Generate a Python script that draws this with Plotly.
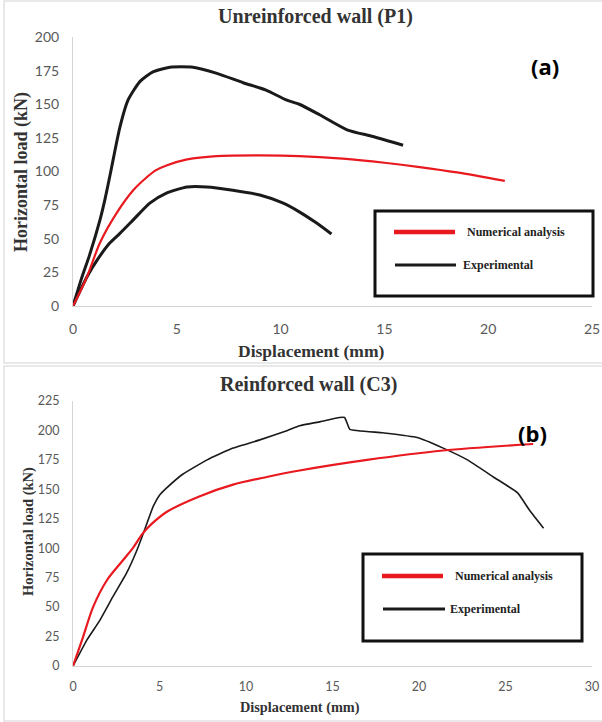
import plotly.graph_objects as go

W, H = 602, 722

# ---------------- data (a) Unreinforced wall (P1) ----------------
a_exp1_x = [0, 0.4, 0.8, 1.3, 1.55, 1.82, 2.0, 2.26, 2.65, 3.23, 3.85, 4.67, 5.78, 6.93, 8.2, 9.3, 10.3, 10.9, 11.9, 13.2, 14.45, 15.9]
a_exp1_y = [0, 20, 38, 64, 80, 100, 114, 133, 153, 167, 174, 177.5, 177.5, 173, 166, 160.5, 153, 150, 142, 131, 126, 119.5]

a_exp2_x = [0, 0.67, 1.2, 1.78, 2.26, 2.9, 3.7, 4.5, 5.5, 6.45, 7.7, 9.0, 10.1, 10.9, 11.7, 12.45]
a_exp2_y = [0, 21.6, 35, 47, 54, 64, 76.5, 84, 88.5, 88.5, 86, 82.5, 76.6, 70, 62, 53.5]

a_num_x = [0, 0.67, 1.3, 2.1, 2.9, 3.5, 4.0, 4.5, 5.5, 6.9, 9.0, 10.9, 13.0, 15.0, 16.7, 18.5, 20.8]
a_num_y = [0, 21.6, 47, 69, 86, 95, 101, 104.5, 109, 111.5, 112, 111.5, 109.5, 106.5, 103.3, 99.3, 93]

# ---------------- data (b) Reinforced wall (C3) ----------------
b_exp_x = [0, 0.8, 1.56, 2.3, 3.1, 3.7, 4.05, 4.27, 4.65, 5.0, 5.4, 6.36, 7.75, 9.25, 10.8, 12.4, 13.1, 14.3, 15.4, 15.7, 15.85, 16.0, 17.9, 19.9, 21.4, 22.8, 24.3, 25.7, 26.4, 27.2]
b_exp_y = [0, 22, 39, 58.6, 79, 98.5, 112, 121, 136, 145, 151, 163, 175, 185, 192, 200, 204, 207.5, 211, 211, 206, 201, 198, 194, 185, 175, 160.5, 147, 132, 117]

b_num_x = [0, 0.58, 1.16, 1.97, 2.9, 3.5, 4.0, 4.5, 5.43, 7.3, 9.25, 11.2, 13.1, 17.0, 21.4, 26.6]
b_num_y = [0, 24.6, 50, 73, 90, 101, 112, 120, 131, 144, 154, 160.5, 166, 175, 183, 188.5]

a_xticks = [0, 5, 10, 15, 20, 25]
a_yticks = [0, 25, 50, 75, 100, 125, 150, 175, 200]
b_xticks = [0, 5, 10, 15, 20, 25, 30]
b_yticks = [0, 25, 50, 75, 100, 125, 150, 175, 200, 225]

RED = "#e8191f"
BLACK = "#1a1a1a"
GRAY_TXT = "#595959"
AXIS_LINE = "#d4d4d4"
SERIF = "Liberation Serif"
SANS = "Lato"


def px(x):
    return x / W


def py(y):
    return 1 - y / H


fig = go.Figure()

fig.add_trace(go.Scatter(x=a_exp1_x, y=a_exp1_y, mode="lines", xaxis="x", yaxis="y",
                         line=dict(color=BLACK, width=3, shape="spline", smoothing=0.6),
                         showlegend=False, name="Experimental"))
fig.add_trace(go.Scatter(x=a_exp2_x, y=a_exp2_y, mode="lines", xaxis="x", yaxis="y",
                         line=dict(color=BLACK, width=3, shape="spline", smoothing=0.6),
                         showlegend=False, name="Experimental"))
fig.add_trace(go.Scatter(x=a_num_x, y=a_num_y, mode="lines", xaxis="x", yaxis="y",
                         line=dict(color=RED, width=2.2, shape="spline", smoothing=0.8),
                         showlegend=False, name="Numerical analysis"))

fig.add_trace(go.Scatter(x=b_exp_x, y=b_exp_y, mode="lines", xaxis="x2", yaxis="y2",
                         line=dict(color=BLACK, width=1.6, shape="spline", smoothing=0.4),
                         showlegend=False, name="Experimental"))
fig.add_trace(go.Scatter(x=b_num_x, y=b_num_y, mode="lines", xaxis="x2", yaxis="y2",
                         line=dict(color=RED, width=2.2, shape="spline", smoothing=0.8),
                         showlegend=False, name="Numerical analysis"))

common = dict(showgrid=False, zeroline=False, showline=True, linecolor=AXIS_LINE, linewidth=1,
              ticks="", fixedrange=True, automargin=False)

fig.update_layout(
    width=W, height=H,
    margin=dict(l=0, r=0, t=0, b=0, autoexpand=False),
    paper_bgcolor="white", plot_bgcolor="white",
    showlegend=False,
    xaxis=dict(domain=[px(73), px(592)], anchor="y", range=[0, 25], tickvals=a_xticks,
               tickfont=dict(family=SANS, size=14, color=GRAY_TXT), ticklabelstandoff=10, **common),
    yaxis=dict(domain=[py(306), py(37)], anchor="x", range=[0, 200], tickvals=a_yticks,
               tickfont=dict(family=SANS, size=14, color=GRAY_TXT), ticklabelstandoff=10, **common),
    xaxis2=dict(domain=[px(73), px(592)], anchor="y2", range=[0, 30], tickvals=b_xticks,
                tickfont=dict(family=SANS, size=12.5, color=GRAY_TXT), ticklabelstandoff=9, **common),
    yaxis2=dict(domain=[py(666), py(401)], anchor="x2", range=[0, 225], tickvals=b_yticks,
                tickfont=dict(family=SANS, size=12.5, color=GRAY_TXT), ticklabelstandoff=10, **common),
)

shapes = []
# panel borders
BORDER = "#e2e2e2"
for (x0, y0, x1, y1) in [(4, 1, 605, 363), (4, 366, 605, 721)]:
    shapes.append(dict(type="rect", xref="paper", yref="paper", x0=px(x0), x1=px(x1), y0=py(y1), y1=py(y0),
                       line=dict(color=BORDER, width=1.5), fillcolor="rgba(0,0,0,0)", layer="below"))


def legend(box, red_seg, blk_seg, red_txt_x, blk_txt_x, red_w, blk_w):
    bx0, by0, bx1, by1 = box
    shapes.append(dict(type="rect", xref="paper", yref="paper", x0=px(bx0), x1=px(bx1), y0=py(by1), y1=py(by0),
                       line=dict(color="#111111", width=3), fillcolor="white"))
    rx0, rx1, ry = red_seg
    shapes.append(dict(type="line", xref="paper", yref="paper", x0=px(rx0), x1=px(rx1), y0=py(ry), y1=py(ry),
                       line=dict(color=RED, width=red_w)))
    kx0, kx1, ky = blk_seg
    shapes.append(dict(type="line", xref="paper", yref="paper", x0=px(kx0), x1=px(kx1), y0=py(ky), y1=py(ky),
                       line=dict(color=BLACK, width=blk_w)))
    ann = [
        dict(text="<b>Numerical analysis</b>", x=px(red_txt_x), y=py(ry), xanchor="left", yanchor="middle"),
        dict(text="<b>Experimental</b>", x=px(blk_txt_x), y=py(ky), xanchor="left", yanchor="middle"),
    ]
    for a in ann:
        a.update(xref="paper", yref="paper", showarrow=False,
                 font=dict(family=SERIF, size=12, color="#222222"))
    return ann


annotations = []
annotations += legend((375, 211, 593, 296), (394, 455, 232), (395, 456, 265), 465, 461, 4.5, 3)
annotations += legend((363, 554, 582, 641), (382, 443, 576), (383, 445, 609), 453, 448, 4.5, 3)


def text(t, x, y, size, family=SERIF, color="#222222", angle=0):
    annotations.append(dict(text=t, x=px(x), y=py(y), xref="paper", yref="paper", showarrow=False,
                            xanchor="center", yanchor="middle", textangle=angle,
                            font=dict(family=family, size=size, color=color)))


text("<b>Unreinforced wall (P1)</b>", 315, 17, 20, color="#333333")
text("<b>Displacement (mm)</b>", 311, 351, 17.5, color="#333333")
text("<b>Horizontal load (kN)</b>", 22, 172, 18, color="#333333", angle=-90)
text("<b>(a)</b>", 545, 66, 22, family="Open Sans", color="#000000")

text("<b>Reinforced wall (C3)</b>", 308, 384, 20, color="#333333")
text("<b>Displacement (mm)</b>", 300, 707, 14.3, color="#333333")
text("<b>Horizontal load (kN)</b>", 28, 532, 14.5, color="#333333", angle=-90)
text("<b>(b)</b>", 532, 433, 22, family="Open Sans", color="#000000")

fig.update_layout(shapes=shapes, annotations=annotations)

fig.write_html("out.html")
